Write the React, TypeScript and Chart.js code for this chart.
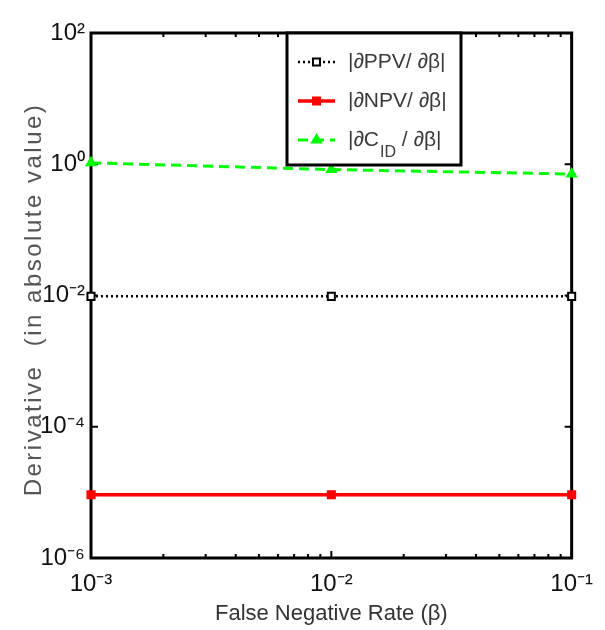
import React, { useEffect, useRef } from "react";
import { Chart, registerables } from "chart.js";

Chart.register(...registerables);

// ---- data ----
const falseNegativeRate = [0.001, 0.01, 0.1];
const dPPV = [0.0097, 0.0097, 0.0097];
const dNPV = [9.2e-6, 9.2e-6, 9.2e-6];
const dCID = [1.05, 0.83, 0.71];
const xTickValues = [0.001, 0.01, 0.1];
const yTickValues = [1e-6, 1e-4, 1e-2, 1, 100];
const legendMain = ["|∂PPV/ ∂β|", "|∂NPV/ ∂β|", "|∂C"];
const legendSub = ["", "", "ID"];
const legendTail = ["", "", " / ∂β|"];
const xTitle = "False Negative Rate (β)";
const yTitle = "Derivative  (in absolute value)";

const FONT = "'Liberation Sans Narrow', 'Liberation Sans', Arial, sans-serif";

const SUP: Record<string, string> = {
  "-": "⁻", "0": "⁰", "1": "¹", "2": "²", "3": "³", "4": "⁴",
  "5": "⁵", "6": "⁶", "7": "⁷", "8": "⁸", "9": "⁹",
};
function pow10Label(v: number): string {
  const e = Math.round(Math.log10(v));
  return "10" + String(e).split("").map((c) => SUP[c] || c).join("");
}

const styles = [
  { color: "#000000", dash: [2, 3], width: 2.5, point: "rect", fill: "#ffffff" },
  { color: "#ff0000", dash: [], width: 3.5, point: "rect", fill: "#ff0000" },
  { color: "#00ff00", dash: [10, 6], width: 3, point: "triangle", fill: "#00ff00" },
];

function drawMarker(ctx: CanvasRenderingContext2D, kind: string, x: number, y: number, r: number, stroke: string, fill: string) {
  ctx.save();
  ctx.setLineDash([]);
  ctx.lineWidth = 2;
  ctx.strokeStyle = stroke;
  ctx.fillStyle = fill;
  ctx.beginPath();
  if (kind === "rect") {
    const s = Math.SQRT1_2 * r;
    ctx.rect(x - s, y - s, 2 * s, 2 * s);
  } else {
    const h = r * 1.5;
    ctx.moveTo(x, y - h * 0.66);
    ctx.lineTo(x + r * 0.9, y + h * 0.34);
    ctx.lineTo(x - r * 0.9, y + h * 0.34);
    ctx.closePath();
  }
  ctx.fill();
  ctx.stroke();
  ctx.restore();
}

const frameAndLegend = {
  id: "frameAndLegend",
  beforeDatasetsDraw(chart: any) {
    const { ctx, chartArea: a, scales } = chart;
    const seg = (x1: number, y1: number, x2: number, y2: number) => {
      ctx.beginPath();
      ctx.moveTo(x1, y1);
      ctx.lineTo(x2, y2);
      ctx.stroke();
    };
    ctx.save();
    ctx.strokeStyle = "#000";
    ctx.lineWidth = 3;
    ctx.strokeRect(a.left, a.top, a.right - a.left, a.bottom - a.top);
    ctx.lineWidth = 2;
    const xs = scales.x;
    const ys = scales.y;
    for (const v of xTickValues) {
      const px = xs.getPixelForValue(v);
      seg(px, a.bottom, px, a.bottom - 7);
      seg(px, a.top, px, a.top + 7);
    }
    for (let d = 0; d < xTickValues.length - 1; d++) {
      for (let m = 2; m <= 9; m++) {
        const px = xs.getPixelForValue(xTickValues[d] * m);
        seg(px, a.bottom, px, a.bottom - 4);
        seg(px, a.top, px, a.top + 4);
      }
    }
    for (const v of yTickValues) {
      const py = ys.getPixelForValue(v);
      seg(a.left, py, a.left + 7, py);
      seg(a.right, py, a.right - 7, py);
    }
    ctx.restore();
  },
  afterDatasetsDraw(chart: any) {
    const { ctx, chartArea: a } = chart;
    const left = a.left + 196;
    const top = a.top;
    const w = 174;
    const h = 132;
    ctx.save();
    ctx.fillStyle = "#ffffff";
    ctx.fillRect(left, top, w, h);
    ctx.strokeStyle = "#000";
    ctx.lineWidth = 3;
    ctx.strokeRect(left, top, w, h);
    const rows = [29, 68, 107];
    for (let i = 0; i < 3; i++) {
      const y = top + rows[i];
      const st = styles[i];
      ctx.save();
      ctx.strokeStyle = st.color;
      ctx.lineWidth = st.width;
      ctx.setLineDash(st.dash);
      ctx.beginPath();
      ctx.moveTo(left + 11, y);
      ctx.lineTo(left + 48, y);
      ctx.stroke();
      ctx.restore();
      drawMarker(ctx, st.point, left + 29.5, y, 5, st.color, st.fill);
      ctx.fillStyle = "#3a3a3a";
      ctx.textBaseline = "middle";
      ctx.textAlign = "left";
      ctx.font = `21px ${FONT}`;
      let tx = left + 61;
      ctx.fillText(legendMain[i], tx, y);
      tx += ctx.measureText(legendMain[i]).width;
      if (legendSub[i]) {
        ctx.font = `16px ${FONT}`;
        ctx.fillText(legendSub[i], tx + 1, y + 13);
        tx += ctx.measureText(legendSub[i]).width + 1;
        ctx.font = `21px ${FONT}`;
        ctx.fillText(legendTail[i], tx, y);
      }
    }
    ctx.restore();
  },
  afterDraw(chart: any) {
    const { ctx, chartArea: a } = chart;
    ctx.save();
    ctx.translate(34, (a.top + a.bottom) / 2 + 4);
    ctx.rotate(-Math.PI / 2);
    ctx.fillStyle = "#555";
    ctx.font = `24px ${FONT}`;
    (ctx as any).letterSpacing = "2.5px";
    ctx.textAlign = "center";
    ctx.textBaseline = "middle";
    ctx.fillText(yTitle, 0, 0);
    ctx.restore();
  },
};

export default function App() {
  const ref = useRef<HTMLCanvasElement | null>(null);
  useEffect(() => {
    if (!ref.current) return;
    const series = [dPPV, dNPV, dCID];
    const chart = new Chart(ref.current, {
      type: "line",
      data: {
        datasets: series.map((vals, i) => ({
          label: legendMain[i] + legendSub[i] + legendTail[i],
          data: falseNegativeRate.map((x, k) => ({ x, y: vals[k] })),
          borderColor: styles[i].color,
          backgroundColor: styles[i].fill,
          borderWidth: styles[i].width,
          borderDash: styles[i].dash,
          pointStyle: styles[i].point as any,
          pointRadius: 5,
          pointBorderWidth: 2,
          pointBorderColor: styles[i].color,
          pointBackgroundColor: styles[i].fill,
          tension: 0,
          fill: false,
          clip: 12,
        })),
      },
      options: {
        responsive: false,
        animation: false,
        devicePixelRatio: 1,
        layout: { padding: { top: 33, right: 32, left: 0, bottom: 0 } },
        plugins: {
          legend: { display: false },
          tooltip: { enabled: false },
        },
        scales: {
          x: {
            type: "logarithmic",
            min: 1e-3,
            max: 1e-1,
            grid: { display: false, drawTicks: false },
            border: { display: false },
            afterBuildTicks: (s: any) => {
              s.ticks = xTickValues.map((v) => ({ value: v }));
            },
            afterFit: (s: any) => {
              s.height = 72;
            },
            ticks: {
              autoSkip: false,
              maxRotation: 0,
              padding: 12,
              color: "#111",
              font: { family: FONT, size: 24 },
              callback: (v: any) => pow10Label(Number(v)),
            },
            title: {
              display: true,
              text: xTitle,
              color: "#333",
              font: { family: FONT, size: 22 },
              padding: { top: 0, bottom: 3 },
            },
          },
          y: {
            type: "logarithmic",
            min: 1e-6,
            max: 1e2,
            grid: { display: false, drawTicks: false },
            border: { display: false },
            afterBuildTicks: (s: any) => {
              s.ticks = yTickValues.map((v) => ({ value: v }));
            },
            afterFit: (s: any) => {
              s.width = 91;
            },
            ticks: {
              autoSkip: false,
              padding: 6,
              color: "#111",
              font: { family: FONT, size: 24 },
              callback: (v: any) => pow10Label(Number(v)),
            },
            title: { display: false },
          },
        },
      },
      plugins: [frameAndLegend],
    });
    return () => chart.destroy();
  }, []);
  return (
    <div style={{ position: "absolute", left: 0, top: 0, width: 605, height: 630, background: "#fff" }}>
      <canvas ref={ref} width={605} height={630} style={{ display: "block" }} />
    </div>
  );
}
